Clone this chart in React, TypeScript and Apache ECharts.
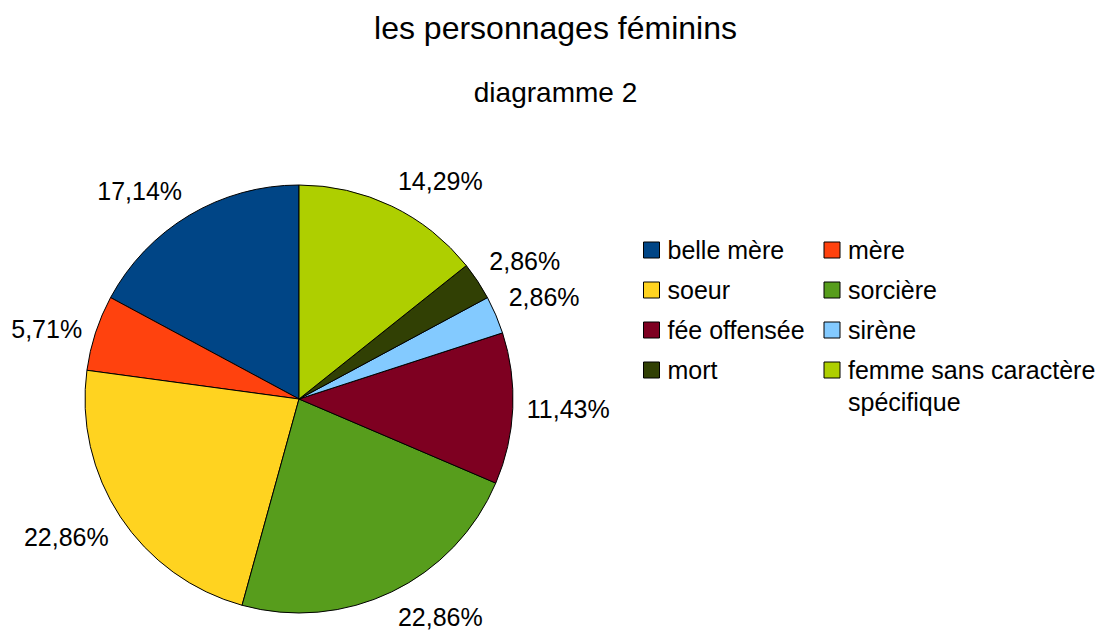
import React, { useEffect, useRef } from 'react';
import * as echarts from 'echarts';

const titleText = 'les personnages féminins';
const subtitleText = 'diagramme 2';
const categories = [
  'belle mère',
  'mère',
  'soeur',
  'sorcière',
  'fée offensée',
  'sirène',
  'mort',
  'femme sans caractère spécifique',
];
const counts = [6, 2, 8, 8, 4, 1, 1, 5];
const colors = ['#004586', '#ff420e', '#ffd320', '#579d1c', '#7e0021', '#83caff', '#314004', '#aecf00'];

const FONT = '"Liberation Sans", Arial, Helvetica, sans-serif';
const CX = 299;
const CY = 399;
const R = 214;
const LABEL_GAP = 14;

export default function App() {
  const ref = useRef<HTMLDivElement>(null);

  useEffect(() => {
    if (!ref.current) return;
    const chart = echarts.init(ref.current, null, { renderer: 'svg' });
    const total = counts.reduce((a, b) => a + b, 0);
    const mids: number[] = [];
    let acc = 0;
    counts.forEach((v) => {
      mids.push(acc + v / 2);
      acc += v;
    });

    chart.setOption({
      animation: false,
      backgroundColor: '#ffffff',
      textStyle: { fontFamily: FONT },
      title: [
        {
          text: titleText,
          left: 'center',
          top: 12,
          padding: 0,
          textStyle: { fontSize: 32, lineHeight: 32, fontWeight: 'normal', color: '#000', fontFamily: FONT },
        },
        {
          text: subtitleText,
          left: 'center',
          top: 78,
          padding: 0,
          textStyle: { fontSize: 28, lineHeight: 28, fontWeight: 'normal', color: '#000', fontFamily: FONT },
        },
      ],
      legend: {
        left: 643,
        top: 234,
        width: 462,
        padding: 0,
        itemGap: 8,
        itemWidth: 16,
        itemHeight: 16,
        icon: 'rect',
        selectedMode: false,
        itemStyle: { borderColor: '#000', borderWidth: 1 },
        textStyle: {
          fontSize: 25,
          lineHeight: 32,
          color: '#000',
          width: 148,
          padding: [0, 0, 0, 3],
          fontFamily: FONT,
        },
        data: categories,
        formatter: (name: string) =>
          name === 'femme sans caractère spécifique' ? '\nfemme sans caractère\nspécifique' : name,
      },
      series: [
        {
          type: 'pie',
          center: [CX, CY],
          radius: R,
          startAngle: 90,
          clockwise: false,
          avoidLabelOverlap: false,
          itemStyle: { borderColor: '#000', borderWidth: 1 },
          emphasis: { disabled: true },
          label: {
            show: true,
            position: 'outside',
            fontSize: 25,
            lineHeight: 25,
            color: '#000',
            fontFamily: FONT,
            formatter: (p: any) => ((counts[p.dataIndex] / total) * 100).toFixed(2).replace('.', ',') + '%',
          },
          labelLine: { show: false },
          labelLayout: (params: any) => {
            const i = params.dataIndex;
            const deg = (90 + (360 * mids[i]) / total) % 360;
            const rad = (deg * Math.PI) / 180;
            const x = CX + (R + LABEL_GAP) * Math.cos(rad);
            const y = CY - (R + LABEL_GAP) * Math.sin(rad);
            let align = 'left';
            let verticalAlign = 'middle';
            if (deg <= 22.5 || deg > 337.5) { align = 'left'; verticalAlign = 'middle'; }
            else if (deg < 67.5) { align = 'left'; verticalAlign = 'bottom'; }
            else if (deg < 112.5) { align = 'center'; verticalAlign = 'bottom'; }
            else if (deg <= 157.5) { align = 'right'; verticalAlign = 'bottom'; }
            else if (deg <= 202.5) { align = 'right'; verticalAlign = 'middle'; }
            else if (deg < 247.5) { align = 'right'; verticalAlign = 'top'; }
            else if (deg < 292.5) { align = 'center'; verticalAlign = 'top'; }
            else { align = 'left'; verticalAlign = 'top'; }
            return { x, y, align, verticalAlign };
          },
          data: categories.map((name, i) => ({
            name,
            value: counts[i],
            itemStyle: { color: colors[i] },
          })),
        },
      ],
    });

    return () => {
      chart.dispose();
    };
  }, []);

  return (
    <div
      ref={ref}
      style={{ position: 'fixed', left: 0, top: 0, width: 1111, height: 632, background: '#fff' }}
    />
  );
}
